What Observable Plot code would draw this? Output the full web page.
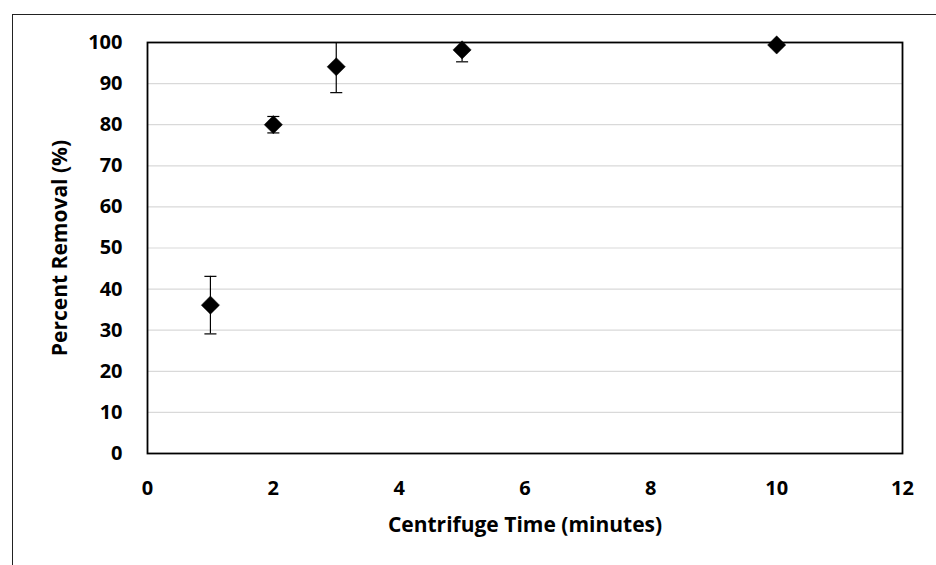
<!DOCTYPE html>
<html>
<head>
<meta charset="utf-8">
<script src="https://cdn.jsdelivr.net/npm/d3@7"></script>
<script src="https://cdn.jsdelivr.net/npm/@observablehq/plot@0.6"></script>
<style>
  html, body { margin: 0; padding: 0; background: #fff; }
  #wrap { position: relative; width: 936px; height: 565px; overflow: hidden; }
  #edge { position: absolute; left: 12px; top: 14px; width: 960px; height: 600px;
          border-top: 1.3px solid #222; border-left: 1.3px solid #222; pointer-events: none; }
  #chart svg { display: block; }
  #chart svg g[aria-label="x-axis label"] text,
  #chart svg g[aria-label="y-axis label"] text { font-size: 21px; }
</style>
</head>
<body>
<div id="wrap">
  <div id="chart"></div>
  <div id="edge"></div>
</div>
<script>
// Centrifuge time (minutes) vs. mean percent removal, with ± error
const times = [1, 2, 3, 5, 10];
const removal = [36.1, 80.0, 94.1, 98.2, 99.4];
const errors = [7.0, 2.0, 6.3, 2.9, 0.5];
const xTicks = [0, 2, 4, 6, 8, 10, 12];
const yTicks = [0, 10, 20, 30, 40, 50, 60, 70, 80, 90, 100];

const data = times.map((t, i) => ({
  t, v: removal[i], lo: removal[i] - errors[i], hi: removal[i] + errors[i]
}));

// horizontal cap used at both ends of each error bar
const cap = {
  draw(ctx, size) {
    const w = Math.sqrt(size);
    ctx.moveTo(-w, 0);
    ctx.lineTo(w, 0);
  }
};

const font = "'Open Sans', 'Noto Sans', sans-serif";

const chart = Plot.plot({
  width: 936,
  height: 565,
  marginLeft: 147,
  marginRight: 34,
  marginTop: 42,
  marginBottom: 112,
  style: { fontFamily: font, fontSize: "20px", fontWeight: "bold", color: "#000", background: "#fff" },
  x: { domain: [0, 12], ticks: xTicks, tickSize: 0, tickPadding: 27,
       label: "Centrifuge Time (minutes)", labelAnchor: "center", labelArrow: "none", labelOffset: 78 },
  y: { domain: [0, 100], ticks: yTicks, tickSize: 0, tickPadding: 25,
       label: "Percent Removal (%)", labelAnchor: "center", labelArrow: "none", labelOffset: 95 },
  marks: [
    Plot.gridY(yTicks.slice(1, -1), { stroke: "#d9d9d9", strokeOpacity: 1, strokeWidth: 1.2 }),
    Plot.ruleX(data, { x: "t", y1: "lo", y2: "hi", stroke: "#000", strokeWidth: 1.2, clip: true }),
    Plot.dot(data, { x: "t", y: "lo", symbol: cap, r: 3.4, stroke: "#000", strokeWidth: 1.2, clip: true }),
    Plot.dot(data, { x: "t", y: "hi", symbol: cap, r: 3.4, stroke: "#000", strokeWidth: 1.2, clip: true }),
    Plot.frame({ stroke: "#000", strokeWidth: 1.8 }),
    Plot.dot(data, { x: "t", y: "v", symbol: "diamond2", r: 8.2, fill: "#000", stroke: "#000", strokeWidth: 0.5 })
  ]
});

document.getElementById("chart").appendChild(chart);
</script>
</body>
</html>
